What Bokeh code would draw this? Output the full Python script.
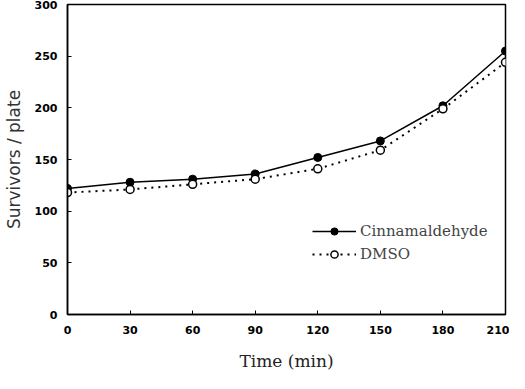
from bokeh.plotting import figure
from bokeh.models import Range1d, Legend, LegendItem, FixedTicker
from bokeh.embed import file_html
from bokeh.resources import INLINE

time_min = [0, 30, 60, 90, 120, 150, 180, 210]
cinnamaldehyde = [122, 128, 131, 136, 152, 168, 202, 255]
dmso = [118, 121, 126, 131, 141, 159, 199, 244]
x_ticks = [0, 30, 60, 90, 120, 150, 180, 210]
y_ticks = [0, 50, 100, 150, 200, 250, 300]

p = figure(width=509, height=373, output_backend="svg", toolbar_location=None,
           x_range=Range1d(0, 210), y_range=Range1d(0, 300),
           min_border_left=59, min_border_right=4, min_border_top=4, min_border_bottom=52)
p.grid.visible = False
p.outline_line_color = "black"
p.outline_line_width = 1.5

for ax in (p.xaxis[0], p.yaxis[0]):
    ax.axis_line_width = 1.5
    ax.major_tick_in = 4
    ax.major_tick_out = 0
    ax.minor_tick_line_color = None
    ax.major_label_text_font = "DejaVu Sans"
    ax.major_label_text_font_style = "bold"
    ax.major_label_text_font_size = "11px"
    ax.major_label_text_color = "black"
    ax.axis_label_text_font_style = "normal"
    ax.axis_label_text_color = "#222222"

p.xaxis.ticker = FixedTicker(ticks=x_ticks)
p.yaxis.ticker = FixedTicker(ticks=y_ticks)
p.xaxis.major_label_standoff = 11
p.yaxis.major_label_standoff = 10
p.xaxis.axis_label = "Time (min)"
p.yaxis.axis_label = "Survivors / plate"
p.xaxis.axis_label_text_font = "DejaVu Serif"
p.xaxis.axis_label_text_font_size = "17px"
p.yaxis.axis_label_text_font = "DejaVu Sans"
p.yaxis.axis_label_text_font_size = "17px"
p.yaxis.axis_label_text_color = "#333333"
p.xaxis.axis_label_standoff = 14
p.yaxis.axis_label_standoff = 8

l1 = p.line(time_min, cinnamaldehyde, line_color="black", line_width=1.5)
m1 = p.scatter(time_min, cinnamaldehyde, marker="circle", size=8,
               fill_color="black", line_color="black")
l2 = p.line(time_min, dmso, line_color="black", line_width=2, line_dash="2 5")
m2 = p.scatter(time_min, dmso, marker="circle", size=8,
               fill_color="white", line_color="black", line_width=1.5)

legend = Legend(items=[LegendItem(label="Cinnamaldehyde", renderers=[l1, m1]),
                       LegendItem(label="DMSO", renderers=[l2, m2])],
                location=(245, 51), glyph_width=44, glyph_height=18,
                label_text_font="DejaVu Serif", label_text_font_size="15px",
                label_standoff=4, spacing=5, padding=0,
                background_fill_alpha=0, border_line_color=None)
p.add_layout(legend, "center")

open("out.html", "w").write(file_html(p, INLINE))
